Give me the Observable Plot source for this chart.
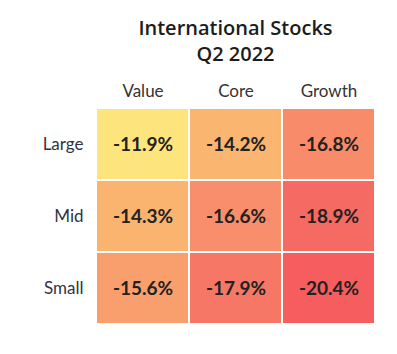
<!DOCTYPE html>
<html>
<head>
<meta charset="utf-8">
<script src="https://cdn.jsdelivr.net/npm/d3@7"></script>
<script src="https://cdn.jsdelivr.net/npm/@observablehq/plot@0.6"></script>
<style>
  body { margin: 0; background: #fff; }
  #wrap { position: relative; width: 397px; height: 354px; }
  #title { position: absolute; left: 96px; width: 279px; top: 15px; text-align: center;
           font-family: "Open Sans", sans-serif; font-weight: 600; font-size: 20px; line-height: 26px; color: #1c1c1c; }
  #chart { position: absolute; left: 0; top: 0; }
</style>
</head>
<body>
<div id="wrap">
  <div id="chart"></div>
  <div id="title">International Stocks<br>Q2 2022</div>
</div>
<script>
const styles = ["Value", "Core", "Growth"];
const sizes = ["Large", "Mid", "Small"];
const largeValues = [-11.9, -14.2, -16.8];
const midValues = [-14.3, -16.6, -18.9];
const smallValues = [-15.6, -17.9, -20.4];

const rows = [largeValues, midValues, smallValues];
const table = [];
sizes.forEach((s, i) => styles.forEach((st, j) => table.push({size: s, style: st, value: rows[i][j]})));

const chart = Plot.plot({
  width: 397,
  height: 354,
  marginLeft: 96,
  marginRight: 22,
  marginTop: 107,
  marginBottom: 30,
  style: {fontFamily: "Lato, sans-serif", background: "#fff"},
  x: {domain: styles, padding: 0, axis: null},
  y: {domain: sizes, padding: 0, axis: null},
  color: {
    type: "linear",
    domain: [-20.4, -18.4, -16.5, -14.25, -11.9],
    range: ["#f55d5e", "#f56e63", "#f8906b", "#fab570", "#fee47c"],
    interpolate: "rgb"
  },
  marks: [
    Plot.axisX({anchor: "top", label: null, tickSize: 0, tickPadding: 11, fontSize: 17, fill: "#333"}),
    Plot.axisY({anchor: "left", label: null, tickSize: 0, tickPadding: 13, fontSize: 17, fill: "#2f3441"}),
    Plot.cell(table, {x: "style", y: "size", fill: "value", inset: 1}),
    Plot.text(table, {x: "style", y: "size", text: d => d.value.toFixed(1) + "%", fontSize: 19, fontWeight: 700, fill: "#222"})
  ]
});
document.getElementById("chart").appendChild(chart);
</script>
</body>
</html>
